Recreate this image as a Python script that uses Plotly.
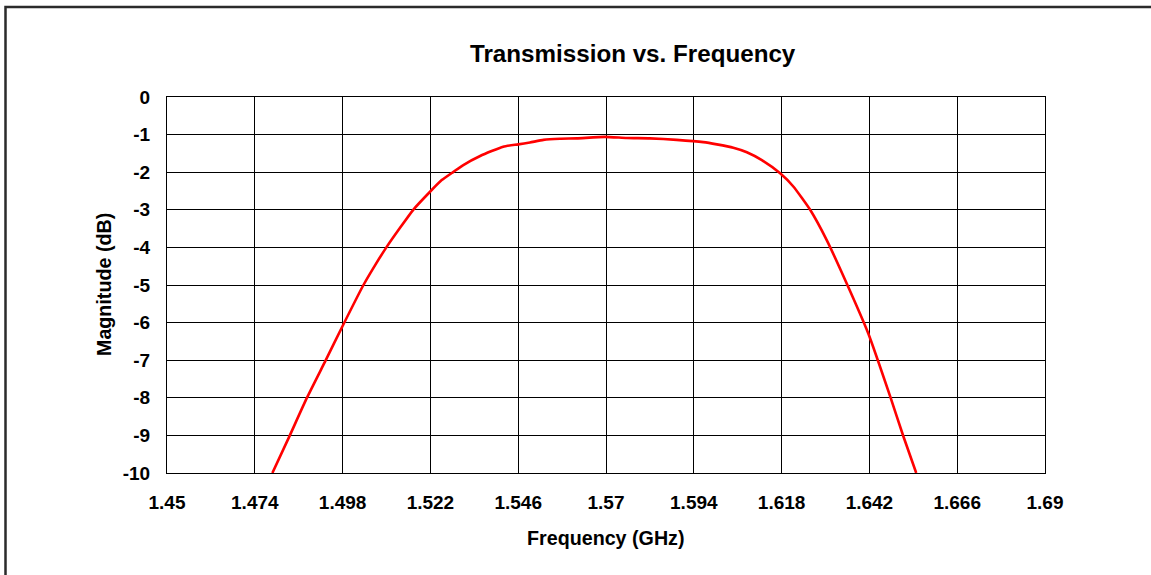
import plotly.graph_objects as go

# Data
freq_ghz = [1.4788, 1.4832, 1.4882, 1.4934, 1.4979, 1.5037, 1.5069, 1.5101, 1.5137,
            1.5173, 1.5219, 1.5251, 1.5283, 1.5310, 1.5356, 1.5419, 1.5460, 1.5492,
            1.5529, 1.5574, 1.5620, 1.5697, 1.5757, 1.5820, 1.5893, 1.5966, 1.6003,
            1.6048, 1.6085, 1.6126, 1.6176, 1.6212, 1.6258, 1.6303, 1.6358, 1.6417,
            1.6477, 1.6513, 1.6548]
magnitude_db = [-10.0, -9.08, -8.01, -7.0, -6.11, -5.0, -4.47, -3.98, -3.48,
                -3.0, -2.52, -2.21, -1.99, -1.81, -1.57, -1.32, -1.26, -1.21,
                -1.14, -1.11, -1.10, -1.06, -1.09, -1.10, -1.14, -1.20, -1.26,
                -1.35, -1.47, -1.68, -2.03, -2.38, -3.0, -3.80, -4.96, -6.29,
                -7.97, -9.03, -10.0]

x_tickvals = [1.45, 1.474, 1.498, 1.522, 1.546, 1.57, 1.594, 1.618, 1.642, 1.666, 1.69]
x_ticktext = ["1.45", "1.474", "1.498", "1.522", "1.546", "1.57", "1.594", "1.618",
              "1.642", "1.666", "1.69"]
y_tickvals = [0, -1, -2, -3, -4, -5, -6, -7, -8, -9, -10]
y_ticktext = ["0", "-1", "-2", "-3", "-4", "-5", "-6", "-7", "-8", "-9", "-10"]

chart_title = "Transmission vs. Frequency"
x_title = "Frequency (GHz)"
y_title = "Magnitude (dB)"

W, H = 1151, 575
L, R, T, B = 167, 1045, 97, 473
pw, ph = R - L, B - T


def px_x(px):
    return (px - L) / pw


def px_y(py):
    return (B - py) / ph


FONT = "Liberation Sans, Arial, sans-serif"

fig = go.Figure()
fig.add_trace(go.Scatter(
    x=freq_ghz, y=magnitude_db, mode="lines",
    line=dict(color="#FF0000", width=2.6, shape="spline", smoothing=0.5),
    showlegend=False, hoverinfo="x+y",
))

axis_common = dict(
    showgrid=True, gridcolor="#000000", gridwidth=1,
    showline=True, linecolor="#000000", linewidth=1, mirror=True,
    zeroline=False, ticks="outside", tickcolor="rgba(0,0,0,0)",
    tickfont=dict(family=FONT, size=19, color="#000000", weight=700),
)

fig.update_xaxes(range=[1.45, 1.69], tickmode="array", tickvals=x_tickvals,
                 ticktext=x_ticktext, ticklen=12, **axis_common)
fig.update_yaxes(range=[-10, 0], tickmode="array", tickvals=y_tickvals,
                 ticktext=y_ticktext, ticklen=12, **axis_common)

fig.update_layout(
    width=W, height=H,
    margin=dict(l=L, r=W - R, t=T, b=H - B, autoexpand=False),
    paper_bgcolor="#FFFFFF", plot_bgcolor="#FFFFFF",
    font=dict(family=FONT, color="#000000"),
    shapes=[dict(type="rect", xref="paper", yref="paper",
                 x0=px_x(5.5), x1=px_x(1400), y0=px_y(7), y1=px_y(800),
                 line=dict(color="#2b2b2b", width=2.5), layer="below")],
    annotations=[
        dict(text=chart_title, xref="paper", yref="paper", x=px_x(633), y=px_y(53),
             xanchor="center", yanchor="middle", showarrow=False,
             font=dict(family=FONT, size=24.2, color="#000000", weight=700)),
        dict(text=x_title, xref="paper", yref="paper", x=px_x(606), y=px_y(538),
             xanchor="center", yanchor="middle", showarrow=False,
             font=dict(family=FONT, size=19.7, color="#000000", weight=700)),
        dict(text=y_title, xref="paper", yref="paper", x=px_x(104), y=px_y(285),
             xanchor="center", yanchor="middle", showarrow=False, textangle=-90,
             font=dict(family=FONT, size=19.7, color="#000000", weight=700)),
    ],
)

fig.write_html(
    "out.html",
    config={"displayModeBar": False},
    post_script="document.body.style.margin='0px';document.body.style.overflow='hidden';",
)
